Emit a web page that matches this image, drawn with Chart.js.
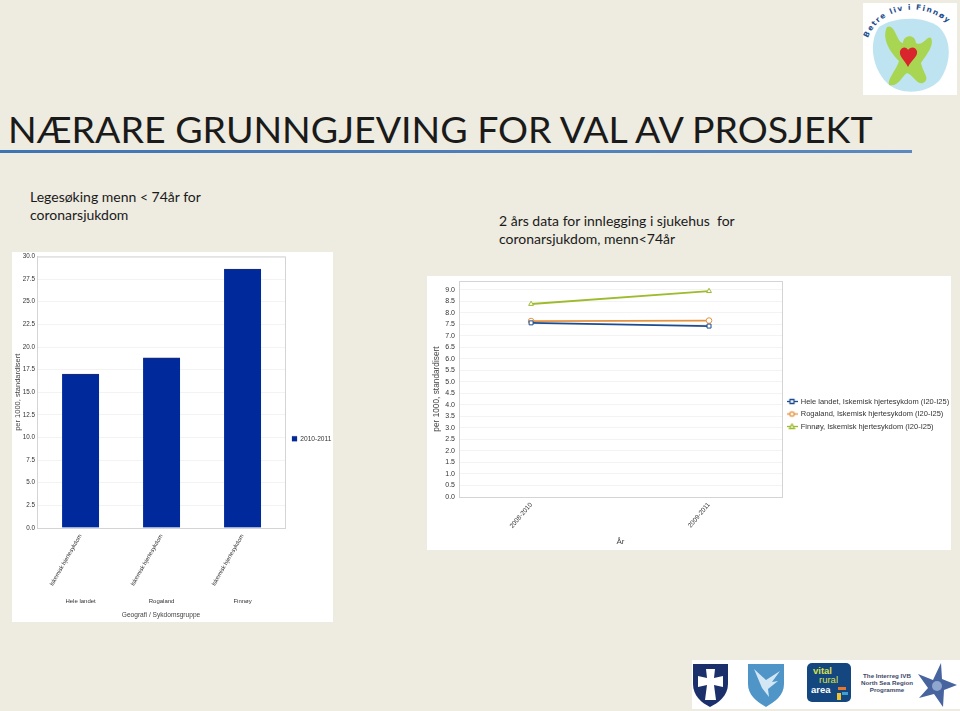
<!DOCTYPE html>
<html lang="no">
<head>
<meta charset="utf-8">
<title>Nærare grunngjeving for val av prosjekt</title>
<script src="https://cdn.jsdelivr.net/npm/chart.js@4"></script>
<style>
  html, body { margin: 0; padding: 0; }
  body { width: 960px; height: 711px; background: #eeebe0; position: relative; overflow: hidden; font-family: 'Lato', 'Open Sans', sans-serif; color: #1a1a1a; }
  h1 { position: absolute; left: 8px; top: 104px; margin: 0; font-size: 37.5px; line-height: 50px; font-weight: 400; white-space: nowrap; }
  .rule { position: absolute; left: 0; top: 150px; width: 912px; height: 3px; background: linear-gradient(90deg, #3f74b3, #5b88c0); }
  .note { position: absolute; font-size: 14px; line-height: 18px; white-space: nowrap; }
  .panel { position: absolute; background: #fff; }
  canvas { position: absolute; }
  svg { position: absolute; }
</style>
</head>
<body>
  <h1>NÆRARE GRUNNGJEVING FOR VAL AV PROSJEKT</h1>
  <div class="rule"></div>
  <div class="note" style="left:30px;top:188px;">Legesøking menn &lt; 74år for<br>coronarsjukdom</div>
  <div class="note" style="left:499px;top:212px;">2 års data for innlegging i sjukehus&nbsp; for<br>coronarsjukdom, menn&lt;74år</div>

  <div class="panel" style="left:12px;top:252px;width:321px;height:370px;"></div>
  <canvas id="chartLege" width="321" height="390" style="left:12px;top:252px;width:321px;height:390px;"></canvas>
  <div class="panel" style="left:427px;top:276px;width:524px;height:274px;"></div>
  <canvas id="chartInnlegging" width="524" height="274" style="left:427px;top:276px;width:524px;height:274px;"></canvas>

  <!-- Betre liv logo -->
  <svg style="left:863px;top:3px;" width="94" height="92" viewBox="0 0 94 92">
    <rect width="94" height="92" fill="#fff"/>
    <path id="arc" d="M5 35 C18 1 70 -5 94 31" fill="none"/>
    <text font-family="'DejaVu Sans'" font-weight="700" font-size="7.5" fill="#1f4f8f" letter-spacing="1.3"><textPath href="#arc">Betre liv i Finnøy</textPath></text>
    <path d="M16 24 C30 14 60 12 76 24 C90 38 88 62 76 78 C62 92 36 92 24 80 C8 64 6 38 16 24Z" fill="#bfe4f1"/>
    <path d="M24 24 C32 20 34 40 40 40 C40 32 52 30 53 40 C60 44 64 32 68 35 C72 42 62 54 58 60 C60 70 68 76 60 80 C54 82 50 72 44 70 C38 74 36 84 26 82 C24 76 34 66 36 58 C28 50 18 36 24 24Z" fill="#a8d653"/>
    <path d="M37 48 C39 43 44 44 45 47 C47 44 52 43 54 48 C55 54 49 56 45 64 C41 56 36 54 37 48Z" fill="#d8262c"/>
  </svg>

  <!-- Partner logos -->
  <svg style="left:692px;top:660px;" width="268" height="49" viewBox="0 0 268 49">
    <rect width="268" height="49" fill="#fff"/>
    <path d="M1 4 H36 V24 C36 36 26 43 18 47 C10 43 1 36 1 24Z" fill="#1b2f6b"/>
    <path d="M14 9 H23 L22 18 L31 16 V27 L22 25 L24 40 H13 L15 25 L6 27 V16 L15 18Z" fill="#fff"/>
    <path d="M56 4 H92 V24 C92 36 82 42 74 47 C66 42 56 36 56 24Z" fill="#4f95c8"/>
    <path d="M62 9 L74 20 L88 11 L80 22 L86 21 L76 29 L77 37 L70 28Z" fill="#d3e6f3"/>
    <rect x="115" y="3" width="44" height="39" rx="5" fill="#14477f"/>
    <text x="121" y="14" font-family="'Liberation Sans'" font-weight="700" font-size="9.5" fill="#d8e24a">vital</text>
    <text x="127" y="23" font-family="'Liberation Sans'" font-size="9.5" fill="#d8e24a">rural</text>
    <text x="119" y="33" font-family="'Liberation Sans'" font-weight="700" font-size="9.5" fill="#fff">area</text>
    <path d="M146 27 h8 v3 h-8z" fill="#e8762c"/>
    <path d="M145 33 h4 v7 h-4z" fill="#f2c230"/>
    <path d="M150 32 h6 v3 h-6z" fill="#3f9fd0"/>
    <text x="195" y="18" text-anchor="middle" font-family="'Liberation Sans'" font-weight="700" font-size="6.2" fill="#3b4a68">The Interreg IVB</text>
    <text x="195" y="25" text-anchor="middle" font-family="'Liberation Sans'" font-weight="700" font-size="6.2" fill="#3b4a68">North Sea Region</text>
    <text x="195" y="32" text-anchor="middle" font-family="'Liberation Sans'" font-weight="700" font-size="6.2" fill="#3b4a68">Programme</text>
    <path d="M249 3 L250 19 L265 25 L252 30 L251 47 L242 34 L227 38 L236 28 L226 14 L241 20Z" fill="#47649f"/>
    <circle cx="245" cy="26" r="5" fill="#8fa6cf"/>
  </svg>

<script>
// venstre figur
const legeKategorier = ['Iskemisk hjertesykdom', 'Iskemisk hjertesykdom', 'Iskemisk hjertesykdom'];
const legeGeografi = ['Hele landet', 'Rogaland', 'Finnøy'];
const legeVerdier = [17.0, 18.8, 28.6];
const legeSerie = '2010-2011';
const legeYTicks = 2.5;

// høgre figur
const innleggingAar = ['2008-2010', '2009-2011'];
const heleLandet = [7.57, 7.43];
const rogaland = [7.65, 7.67];
const finnoy = [8.39, 8.95];
const innleggingNavn = [
  'Hele landet, Iskemisk hjertesykdom (I20-I25)',
  'Rogaland, Iskemisk hjertesykdom (I20-I25)',
  'Finnøy, Iskemisk hjertesykdom (I20-I25)',
];
const innleggingYTicks = 0.5;

const FONT = "'Liberation Sans', Arial, sans-serif";
Chart.defaults.font.family = FONT;
Chart.defaults.color = '#444';
Chart.defaults.animation = false;
Chart.defaults.responsive = false;

const frame = {
  id: 'frame',
  afterDatasetsDraw(chart) {
    const { left, top, width, height } = chart.chartArea;
    const ctx = chart.ctx;
    ctx.save();
    ctx.strokeStyle = '#d4d4d4';
    ctx.lineWidth = 1;
    ctx.strokeRect(left + .5, top + .5, width, height);
    ctx.restore();
  },
};

function legendSwatch(color, style) {
  const c = document.createElement('canvas');
  c.width = 11;
  c.height = 9;
  const g = c.getContext('2d');
  g.strokeStyle = color;
  g.lineWidth = 1.3;
  g.beginPath();
  g.moveTo(0, 4.5);
  g.lineTo(11, 4.5);
  g.stroke();
  g.fillStyle = '#fff';
  g.beginPath();
  if (style === 'rect') g.rect(3.5, 2.5, 4, 4);
  else if (style === 'triangle') { g.moveTo(5.5, 2); g.lineTo(8, 6.5); g.lineTo(3, 6.5); g.closePath(); }
  else g.arc(5.5, 4.5, 2.2, 0, Math.PI * 2);
  g.fill();
  g.stroke();
  return c;
}

const legeXMin = -0.538;
const legeXMax = 2.524;
const legeTicks = (scale) => { scale.ticks = legeGeografi.map((_, value) => ({ value })); };

new Chart(document.getElementById('chartLege'), {
  type: 'bar',
  data: {
    datasets: [{
      label: legeSerie,
      data: legeVerdier.map((y, x) => ({ x, y })),
      backgroundColor: '#00299b',
      borderColor: '#1c2f6e',
      borderWidth: { top: 1, left: 0, right: 0, bottom: 0 },
      barThickness: 37,
    }],
  },
  options: {
    layout: { padding: { top: 4.5, right: 0, bottom: 21, left: 0 } },
    plugins: {
      legend: {
        position: 'right',
        maxWidth: 48,
        labels: { boxWidth: 5, boxHeight: 5, padding: 7, font: { size: 6.6 }, color: '#333' },
      },
      tooltip: { enabled: false },
    },
    scales: {
      x: {
        type: 'linear',
        offset: false,
        min: legeXMin,
        max: legeXMax,
        weight: 1,
        grid: { display: false, drawTicks: false },
        border: { color: '#c8c8c8' },
        afterBuildTicks: legeTicks,
        ticks: {
          minRotation: 60, maxRotation: 60, autoSkip: false, font: { size: 5.8 }, color: '#333', padding: 5,
          callback: (v) => legeKategorier[v],
        },
        afterFit(scale) { scale.height = 65; },
      },
      x2: {
        axis: 'x',
        type: 'linear',
        offset: false,
        min: legeXMin,
        max: legeXMax,
        position: 'bottom',
        weight: 2,
        grid: { display: false, drawTicks: false },
        border: { display: false },
        afterBuildTicks: legeTicks,
        ticks: { maxRotation: 0, autoSkip: false, font: { size: 6 }, color: '#333', padding: 5, callback: (v) => legeGeografi[v] },
        title: { display: true, text: 'Geografi / Sykdomsgruppe', font: { size: 6.6 }, color: '#444', padding: { top: 3, bottom: 2 } },
        afterFit(scale) { scale.height = 28; },
      },
      y: {
        min: 0,
        max: 30,
        grid: { color: '#f3f3f3', drawTicks: false },
        border: { color: '#d4d4d4' },
        ticks: {
          stepSize: legeYTicks,
          font: { size: 6.3 },
          color: '#333',
          padding: 2,
          callback: (v) => v.toFixed(1),
        },
        title: { display: true, text: 'per 1000, standardisert', font: { size: 7.5 }, color: '#444', padding: { top: 1, bottom: 0 } },
        afterFit(scale) { scale.width = 25; scale.paddingTop = 0; },
      },
    },
  },
  plugins: [frame],
});

const lineColors = ['#1d4b8f', '#e5923f', '#9dbb2c'];
const lineMarks = ['rect', 'circle', 'triangle'];

new Chart(document.getElementById('chartInnlegging'), {
  type: 'line',
  data: {
    datasets: [heleLandet, rogaland, finnoy].map((serie, i) => ({
      label: innleggingNavn[i],
      data: serie.map((y, x) => ({ x, y })),
      borderColor: lineColors[i],
      borderWidth: 1.8,
      pointStyle: lineMarks[i],
      pointRadius: 2.8,
      pointBackgroundColor: '#fff',
      pointBorderColor: lineColors[i],
      pointBorderWidth: 1,
      tension: 0,
    })),
  },
  options: {
    layout: { padding: { top: 5, right: 0, bottom: 3, left: 0 } },
    plugins: {
      legend: {
        position: 'right',
        maxWidth: 169,
        labels: {
          usePointStyle: true,
          pointStyleWidth: 10,
          boxHeight: 8,
          padding: 5,
          font: { size: 7.5 },
          color: '#333',
          generateLabels(chart) {
            return chart.data.datasets.map((ds, i) => ({
              text: ds.label,
              datasetIndex: i,
              pointStyle: legendSwatch(lineColors[i], lineMarks[i]),
              fontColor: '#333',
              lineWidth: 0,
            }));
          },
        },
      },
      tooltip: { enabled: false },
    },
    scales: {
      x: {
        type: 'linear',
        min: -0.405,
        max: 1.41,
        grid: { display: false, drawTicks: false },
        border: { color: '#c8c8c8' },
        afterBuildTicks(scale) { scale.ticks = innleggingAar.map((_, value) => ({ value })); },
        ticks: {
          minRotation: 50,
          maxRotation: 50,
          autoSkip: false,
          font: { size: 6.5 },
          color: '#333',
          padding: 4,
          callback: (v) => innleggingAar[v],
        },
        title: { display: true, text: 'År', font: { size: 8 }, color: '#444', padding: 0 },
        afterFit(scale) { scale.height = 50; },
      },
      y: {
        min: 0,
        max: 9.39,
        grid: { color: '#f3f3f3', drawTicks: false },
        border: { color: '#d4d4d4' },
        afterBuildTicks(scale) { scale.ticks = scale.ticks.filter((t) => t.value <= 9); },
        ticks: {
          stepSize: innleggingYTicks,
          font: { size: 7 },
          color: '#333',
          padding: 4,
          callback: (v) => v.toFixed(1),
        },
        title: { display: true, text: 'per 1000, standardisert', font: { size: 8.3 }, color: '#444', padding: { top: 5, bottom: 0 } },
        afterFit(scale) { scale.width = 32; scale.paddingTop = 0; },
      },
    },
  },
  plugins: [frame],
});
</script>
</body>
</html>
